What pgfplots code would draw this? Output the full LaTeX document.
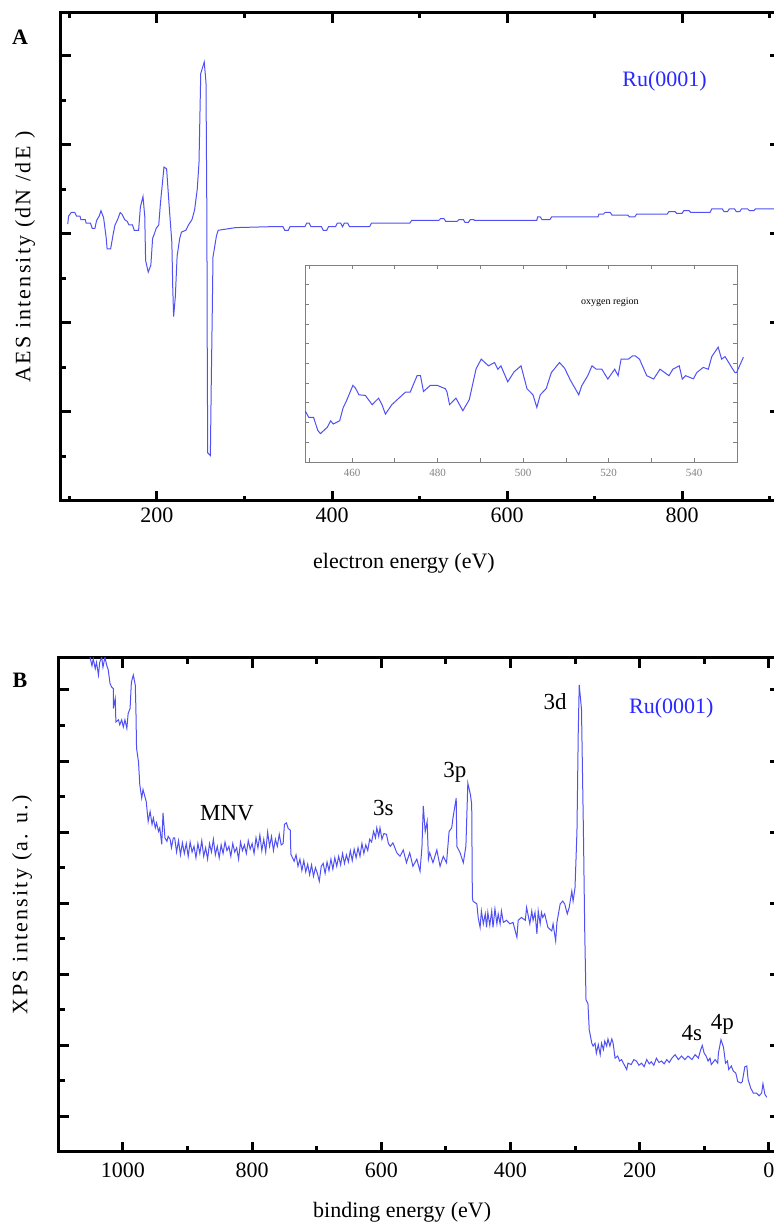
\documentclass[border=0pt]{standalone}
\usepackage{fontspec}
\setmainfont{Liberation Serif}
\usepackage{pgfplots}
\pgfplotsset{compat=1.18}

\definecolor{curveblue}{RGB}{80,80,245}
\definecolor{rublue}{RGB}{40,40,255}

\pgfplotsset{
  panel/.style={
    scale only axis,
    clip mode=individual,
    axis line style={line width=1.5pt},
    tick style={line width=1.5pt, black},
    major tick length=5pt,
    minor tick length=2.5pt,
    tick align=inside,
    xtick pos=both, ytick pos=both,
    yticklabels={},
    tick label style={font=\fontsize{11}{13}\selectfont},
    /pgf/number format/assume math mode=true,
    /pgf/number format/1000 sep={},
    label style={font=\fontsize{11}{13}\selectfont},
  },
}

\begin{document}
\begin{tikzpicture}
\useasboundingbox (0,0) rectangle (386.5pt,613pt);

% ---- panel A: AES ----
\begin{axis}[panel,
  at={(30.5pt,362.5pt)}, anchor=south west,
  width=359.5pt, height=244pt,
  xmin=90.3, xmax=912, ymin=0, ymax=5.48,
  xtick={200,400,600,800}, minor xtick={100,300,500,700,900},
  ytick={1,2,3,4,5}, minor ytick={0.5,1.5,2.5,3.5,4.5,5.5},
  xticklabel pos=lower,
  xlabel={electron energy (eV)},
  xlabel style={at={(axis description cs:0.477,-0.127)}, anchor=center},
  ylabel={\addfontfeatures{LetterSpace=10}AES intensity (dN /dE )},
  ylabel style={at={(axis description cs:-0.050,0.5)}, anchor=center, rotate=0},
]
\addplot[curveblue, line width=0.5pt] coordinates {
(98,3.11) (99,3.2) (102,3.24) (106,3.24) (108,3.2) (112,3.2) (113,3.16) (118,3.16)
(119,3.12) (124,3.12) (126,3.06) (129,3.06) (131,3.15) (134,3.2) (136,3.26) (139,3.18)
(142,2.95) (143,2.83) (147,2.83) (150,3.0) (152,3.1) (155,3.16) (158,3.24) (160,3.22)
(163,3.16) (166,3.14) (168,3.1) (172,3.1) (174,3.04) (179,3.04) (181,3.3) (184,3.42)
(186,3.2) (187,2.7) (190,2.57) (193,2.65) (195,2.95) (197,3.0) (199,3.06) (202,3.1)
(204,3.35) (206,3.55) (208,3.75) (211,3.73) (214,3.3) (217,2.9) (218,2.4) (219,2.07)
(221,2.3) (223,2.75) (226,2.95) (228,3.02) (233,3.04) (236,3.1) (240,3.16) (243,3.27)
(246,3.5) (248,3.8) (250,4.8) (254,4.93) (256,4.7) (257,3.2) (257.5,1.5) (258,0.54)
(261,0.51) (262,1.3) (263,2.0) (264,2.74) (268,2.98) (270,3.04) (290,3.07) (329,3.08)
(344,3.08) (346,3.04) (350,3.04) (352,3.08) (369,3.08) (371,3.12) (374,3.12) (376,3.08)
(388,3.08) (390,3.04) (394,3.04) (396,3.08) (404,3.08) (406,3.12) (410,3.12) (412,3.08)
(414,3.12) (418,3.12) (420,3.08) (443,3.08) (445,3.12) (489,3.12) (491,3.15) (522,3.15)
(524,3.17) (528,3.17) (530,3.14) (543,3.14) (545,3.16) (550,3.16) (552,3.13) (556,3.13)
(558,3.16) (562,3.16) (563,3.15) (634,3.15) (635,3.19) (638,3.19) (640,3.16) (649,3.16)
(651,3.19) (704,3.19) (705,3.22) (710,3.22) (712,3.24) (718,3.24) (720,3.21) (738,3.21)
(740,3.19) (746,3.19) (748,3.22) (783,3.22) (785,3.25) (792,3.25) (794,3.23) (800,3.23)
(802,3.26) (808,3.26) (810,3.24) (832,3.24) (834,3.28) (846,3.28) (848,3.25) (852,3.25)
(854,3.28) (860,3.28) (862,3.25) (866,3.25) (868,3.28) (875,3.28) (877,3.26) (882,3.26)
(884,3.28) (912,3.28)
};
\node[rublue, font=\fontsize{11}{13}\selectfont] at (axis cs:780,4.71) {Ru(0001)};
\node[font=\fontsize{11}{13}\selectfont\bfseries] at (axis description cs:-0.057,0.951) {A};
\end{axis}

% ---- inset: oxygen region ----
\begin{axis}[
  at={(152.5pt,382pt)}, anchor=south west,
  scale only axis, width=216pt, height=98.5pt,
  xmin=449, xmax=550, ymin=0, ymax=10,
  clip=false,
  axis background/.style={fill=white},
  axis line style={gray, line width=0.4pt},
  tick style={gray, line width=0.4pt},
  major tick length=2pt, minor tick length=2pt,
  tick align=inside, xtick pos=both, ytick pos=both,
  xtick={460,480,...,540}, minor xtick={450,470,...,550},
  ytick={1,...,9}, yticklabels={},
  xticklabel pos=lower,
  tick label style={font=\fontsize{5.5}{6}\selectfont, gray},
  /pgf/number format/assume math mode=true,
]
\addplot[curveblue, line width=0.5pt] coordinates {
(449.1,2.57) (449.9,2.26) (451.0,2.26) (452.0,1.60) (452.6,1.44) (454.2,1.76) (455.0,2.09)
(455.6,1.93) (457.1,2.09) (457.9,2.74) (458.8,3.16) (460.2,3.89) (460.8,3.75) (461.6,3.41)
(463.1,3.38) (464.7,2.91) (466.2,3.24) (467.0,2.91) (467.8,2.43) (469.3,2.91) (472.5,3.55)
(473.6,3.55) (475.2,4.38) (476.0,4.38) (476.7,3.58) (478.3,3.89) (479.9,3.89) (481.8,3.72)
(482.2,3.55) (482.8,2.91) (484.3,3.24) (485.9,2.60) (487.4,3.16) (489.0,4.73) (490.2,5.22)
(491.9,4.88) (493.3,5.05) (494.1,4.71) (494.8,4.88) (496.4,4.07) (497.9,4.58) (499.5,4.88)
(500.9,3.72) (502.3,3.41) (503.2,2.77) (504.0,3.41) (505.4,3.73) (506.6,4.54) (508.5,5.05)
(509.7,4.76) (511.0,4.17) (513.0,3.41) (513.7,3.87) (515.1,4.38) (516.1,4.88) (517.1,4.71)
(518.4,4.71) (519.8,4.21) (521.4,4.71) (522.2,4.38) (522.9,5.22) (524.6,5.22) (525.6,5.39)
(526.2,5.39) (527.2,5.22) (528.9,4.38) (530.5,4.21) (532.0,4.71) (534.1,4.38) (535.0,4.71)
(536.5,4.88) (537.2,4.21) (538.0,4.38) (539.8,4.22) (540.6,4.54) (542.1,4.80) (543.3,4.71)
(544.1,5.35) (545.6,5.83) (546.4,5.22) (547.2,5.35) (549.5,4.54) (549.9,4.54) (551.5,5.32)
};
\node[font=\fontsize{5}{6}\selectfont] at (axis cs:520.3,8.12) {oxygen region};
\end{axis}

% ---- panel B: XPS ----
\begin{axis}[panel,
  at={(29.5pt,37pt)}, anchor=south west,
  width=360.5pt, height=247pt,
  x dir=reverse,
  xmin=-17.4, xmax=1099.1, ymin=-0.5, ymax=6.45,
  xtick={0,200,...,1000}, minor xtick={100,300,...,1100},
  ytick={0,...,6}, minor ytick={0.5,1.5,...,6.5},
  minor tick length=3pt,
  xticklabel pos=lower,
  xticklabel style={yshift=-2pt},
  xlabel={binding energy (eV)},
  xlabel style={at={(axis description cs:0.476,-0.121)}, anchor=center},
  ylabel={\addfontfeatures{LetterSpace=10}XPS intensity (a. u.)},
  ylabel style={at={(axis description cs:-0.051,0.5)}, anchor=center, rotate=0},
]
\addplot[curveblue, line width=0.5pt] coordinates {
(1056,6.6) (1051,6.46) (1048,6.34) (1046,6.44) (1043,6.30) (1041,6.39) (1038,6.21) (1036,6.39)
(1033,6.46) (1031,6.32) (1028,6.46) (1025,6.34) (1023,6.29) (1020,6.09) (1017.5,6.04) (1015,6.02)
(1015,5.74) (1012,5.88) (1011,5.55) (1007,5.58) (1005,5.51) (1002,5.58) (999.5,5.48) (997,5.58)
(994,5.46) (992,5.67) (989,5.74) (987,6.11) (984,6.21) (981,6.07) (980,5.74) (979,5.18)
(976,4.99) (974,4.67) (971,4.48) (969,4.6) (964,4.43) (961,4.15) (958,4.29) (955,4.11)
(953,4.2) (950,4.06) (948,4.13) (945,4.01) (943,4.06) (940,3.83) (938,4.27) (935,3.92)
(932,3.87) (930,3.94) (927,3.9) (925,3.78) (922,3.92)
(920,3.92) (917,3.72) (914,3.88) (911,3.68) (908,3.85) (905,3.70) (902,3.84) (899,3.66)
(896,3.86) (893,3.72) (890,3.80) (887,3.64) (884,3.84) (881,3.70) (878,3.88) (875,3.66)
(872,3.78) (869,3.62) (866,3.84) (863,3.72) (860,3.90) (857,3.68) (854,3.80) (851,3.64)
(848,3.82) (845,3.70) (842,3.86) (839,3.74) (836,3.80) (833,3.66) (830,3.84) (827,3.72)
(824,3.78) (821,3.62) (818,3.86) (815,3.74) (812,3.82) (809,3.70) (806,3.88) (803,3.76)
(800,3.84) (797,3.70) (794,3.92) (791,3.78) (788,3.96) (785,3.74) (782,3.90) (779,3.72)
(776,4.00) (773,3.80) (770,3.94) (767,3.74) (764,3.90) (761,3.80) (758,3.97) (755,3.82)
(752,3.84) (750,4.11) (747,4.13) (744,4.05) (741,4.03) (740,3.69)
(735,3.59) (732,3.68) (729,3.52) (726,3.62) (723,3.46) (720,3.60) (717,3.44) (714,3.55)
(711,3.40) (708,3.54) (705,3.38) (702,3.50) (699,3.42) (696,3.31) (693,3.52) (690,3.56)
(687,3.42) (684,3.58) (681,3.46) (678,3.62) (675,3.48) (672,3.64) (669,3.52) (666,3.66)
(663,3.54) (660,3.70) (657,3.56) (654,3.68) (651,3.58) (648,3.74) (645,3.60) (642,3.76)
(639,3.64) (636,3.78) (633,3.66) (630,3.84) (627,3.70) (624,3.82) (621,3.74) (618,3.90)
(615,3.86) (612,4.01) (609,3.92) (607,4.06) (604,3.94) (602,4.06) (599,3.90) (596,3.98)
(592,3.97) (589,3.84) (586,3.8) (582,3.85) (576,3.71) (571,3.66) (566,3.75) (561,3.57)
(556,3.71) (551,3.52) (545,3.62) (540,3.45) (537,3.8) (535,4.37) (532,4.01) (529,4.15)
(527,3.62) (525,3.71) (520,3.57) (514,3.75) (509,3.52) (504,3.66) (499,3.57) (495,4.01)
(491,4.06) (489,4.2) (484,4.48) (483,3.8) (478,3.71) (473,3.57) (469,3.8) (466,4.69)
(462,4.53) (460,4.39) (459,3.08) (458,3.03) (452,2.99) (450,2.80) (447,2.66) (445,2.89)
(442,2.71) (439,2.85) (437,2.66) (435,2.87) (432,2.69) (429,2.89) (427,2.66) (424,2.92)
(421,2.71) (419,2.85) (416,2.71) (414,2.89) (411,2.73) (406,2.76) (401,2.71) (396,2.73)
(390,2.52) (388,2.76) (383,2.80) (377,2.76) (375,2.94) (373,2.85) (370,2.71) (367,2.89)
(365,2.76) (362,2.87) (359,2.57) (357,2.89) (354,2.71) (352,2.87) (350,2.80) (347,2.85)
(342,2.66) (336,2.61) (334,2.71) (330,2.47) (328,2.73) (323,2.99) (319,3.03) (316,2.99)
(312,2.85) (309,2.94) (305,3.17) (303,3.03) (300,3.22) (297,4.01) (295,5.41) (293.5,6.07)
(290,5.73) (287,4.01) (285,2.62) (283,1.64) (280,1.59) (278,1.22) (274,1.03) (272,0.99)
(269,1.03) (267,0.89) (264,1.01) (261,0.87) (259,1.03) (256,0.94) (254,1.06) (251,0.99)
(249,1.09) (246,0.99) (243,1.09) (241,1.03) (238,0.82) (234,0.85) (231,0.78) (228,0.80)
(224,0.73) (220,0.66) (218,0.75) (213,0.73) (209,0.80) (205,0.78) (201,0.72) (197,0.75)
(193,0.70) (189,0.80) (185,0.74) (182,0.77) (178,0.72) (174,0.82) (170,0.76) (166,0.78)
(162,0.74) (158,0.80) (154,0.76) (150,0.82) (145,0.87) (140,0.80) (135,0.85) (130,0.80)
(125,0.85) (119,0.80) (114,0.87) (109,0.82) (106,0.92) (103,1.0) (100,0.89) (97,0.85)
(94,0.78) (91,0.82) (89,0.73) (83,0.8) (79,0.75) (78,0.89) (74,1.08) (70,0.97)
(67,0.75) (64,0.78) (62,0.66) (58,0.71) (55,0.64) (51,0.61) (48,0.49) (43,0.47)
(41,0.49) (37,0.70) (34,0.71) (32,0.52) (28,0.40) (24,0.33) (19,0.33) (15,0.29)
(11,0.33) (9,0.46) (6,0.31) (3,0.27)
};
\node[font=\fontsize{11.5}{13}\selectfont] at (axis cs:839,4.27) {MNV};
\node[font=\fontsize{11.5}{13}\selectfont] at (axis cs:597,4.34) {3s};
\node[font=\fontsize{11.5}{13}\selectfont] at (axis cs:486,4.84) {3p};
\node[font=\fontsize{11.5}{13}\selectfont] at (axis cs:331,5.83) {3d};
\node[font=\fontsize{11.5}{13}\selectfont] at (axis cs:119,1.17) {4s};
\node[font=\fontsize{11.5}{13}\selectfont] at (axis cs:72,1.29) {4p};
\node[rublue, font=\fontsize{11}{13}\selectfont] at (axis cs:151,5.75) {Ru(0001)};
\node[font=\fontsize{11}{13}\selectfont\bfseries] at (axis description cs:-0.054,0.955) {B};
\end{axis}
\end{tikzpicture}
\end{document}
